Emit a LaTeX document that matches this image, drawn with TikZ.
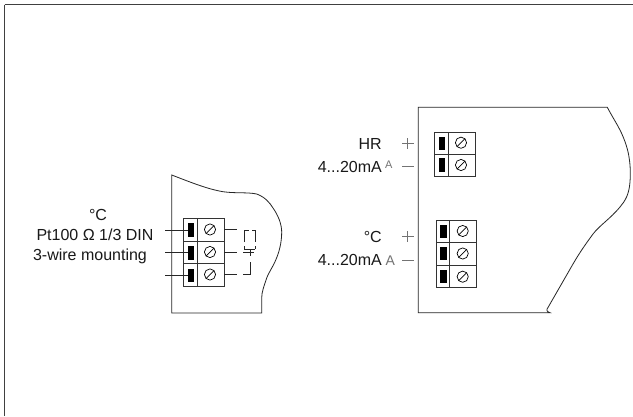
\documentclass[tikz,border=0pt]{standalone}
\usepackage{fontspec}
\setmainfont{Liberation Sans}
\tikzset{
  x=1pt,y=-1pt,
  frame/.style={draw=black!75,line width=0.9pt},
  encl/.style={draw=black!85,line width=0.8pt},
  cell/.style={draw=black!80,line width=0.9pt},
  pin/.style={fill=black,draw=none},
  screw/.style={draw=black,line width=0.7pt},
  sign/.style={draw=black!55,line width=0.8pt},
  wire/.style={draw=black!85,line width=0.7pt},
  lbl/.style={inner sep=0pt,font=\fontsize{16}{18}\selectfont,text=black!90},
  ghost/.style={inner sep=0pt,text=black!55}
}
\newcommand{\termrow}[5]{% x0 x1 x2 y0 y1
  \draw[cell] (#1,#4) rectangle (#3,#5);
  \draw[cell] (#2,#4) -- (#2,#5);
}
\newcommand{\screwat}[2]{%
  \draw[screw] (#1,#2) circle (5.6);
  \draw[screw] (#1-4,#2+4) -- (#1+4,#2-4);
}
\begin{document}
\begin{tikzpicture}
\useasboundingbox (0,0) rectangle (633,416);
\fill[white] (0,0) rectangle (633,416);
% frame
\draw[frame] (4.5,4.5) -- (632.5,4.5);
\draw[frame] (4.5,4.5) -- (4.5,416);
% left enclosure
\draw[encl] (171.7,175) .. controls (190,182) and (207,189) .. (223,191.7)
  .. controls (235,193.5) and (247,192) .. (256.7,194)
  .. controls (265,197) and (270,203) .. (273,208)
  .. controls (278,215) and (281.7,224) .. (281.7,232)
  .. controls (281.7,243) and (279,253) .. (275,261.7)
  .. controls (271,270) and (268,274) .. (266.7,278)
  .. controls (264,286) and (261.7,292) .. (261.7,298)
  -- (261.7,313) -- (171.7,313) -- cycle;
% right enclosure
\draw[encl] (418.3,107.3) -- (607.3,107.3)
  .. controls (613,118) and (617,124) .. (620,130)
  .. controls (625,140) and (628,150) .. (629,157)
  .. controls (630.5,166) and (630.5,174) .. (630,182)
  .. controls (629,195) and (625,201) .. (620,207)
  .. controls (610,219) and (600,225) .. (593,234)
  .. controls (585,245) and (580,252) .. (573,264)
  -- (548,307.5) .. controls (546,310) and (546.5,311.5) .. (550,312.7)
  -- (418.3,312.7) -- cycle;
% left block
\termrow{183.5}{197}{224}{218.5}{241}
\termrow{183.5}{197}{224}{241}{263.7}
\termrow{183.5}{197}{224}{263.7}{286}
\fill[pin] (187.7,223) rectangle (194,237);
\fill[pin] (187.7,246) rectangle (194,259.5);
\fill[pin] (187.7,269) rectangle (194,282);
\screwat{210}{229.5}
\screwat{210}{252}
\screwat{210}{274.5}
\draw[wire] (165,230) -- (187.7,230);
\draw[wire] (165,252.5) -- (187.7,252.5);
\draw[wire] (165,275) -- (187.7,275);
\draw[wire] (224,229.3) -- (236.7,229.3);
\draw[wire] (224,252) -- (236.7,252);
\draw[wire] (224,274.3) -- (237,274.3);
\draw[wire] (243,274.3) -- (250,274.3) -- (250,262);
\draw[wire] (243,252) -- (254,252) (250,250) -- (250,256);
\draw[wire] (244.3,249) -- (255.3,249);
\draw[wire] (244.3,246) -- (244.3,249);
\draw[wire] (255.3,246) -- (255.3,249);
\draw[wire] (244.3,242) -- (244.3,230.5) -- (249,230.5);
\draw[wire] (252,230.5) -- (255.3,230.5) -- (255.3,242);
% right top block
\termrow{434.5}{448.5}{475.5}{132}{154.3}
\termrow{434.5}{448.5}{475.5}{154.3}{176.7}
\fill[pin] (438.7,136.7) rectangle (445.3,150);
\fill[pin] (438.7,158) rectangle (445.3,171.7);
\screwat{461}{142.7}
\screwat{461}{165}
% right bottom block
\termrow{436}{449.5}{476}{220}{242.3}
\termrow{436}{449.5}{476}{242.3}{265}
\termrow{436}{449.5}{476}{265}{287.3}
\fill[pin] (440,225) rectangle (446.7,237.7);
\fill[pin] (440,246.7) rectangle (446.7,260);
\fill[pin] (440,270) rectangle (446.7,283);
\screwat{462.7}{231}
\screwat{462.7}{253.5}
\screwat{462.7}{276.7}
% signs
\draw[sign] (402,143.5) -- (413.5,143.5) (407.7,138) -- (407.7,149);
\draw[sign] (402,166.7) -- (413.5,166.7);
\draw[sign] (402,236.7) -- (413.5,236.7) (407.7,231) -- (407.7,242);
\draw[sign] (402,260) -- (413.5,260);
% labels
\node[lbl,anchor=base east] (hr) at (382,149) {HR};
\node[lbl,anchor=base east] (ma1) at (382,172) {4...20mA};
\node[lbl,anchor=base east] (degr) at (382,242.5) {°C};
\node[lbl,anchor=base east] (ma2) at (382,265) {4...20mA};
\node[ghost,anchor=base west,font=\fontsize{11}{12}\selectfont] (a1) at (385,168) {A};
\node[ghost,anchor=base west,font=\fontsize{14}{16}\selectfont] (a2) at (385.5,265) {A};
\node[lbl,anchor=base] (degl) at (98,220) {°C};
\node[lbl,anchor=base] (pt) at (95,240) {Pt100 Ω 1/3 DIN};
\node[lbl,anchor=base] (wire3) at (90,260.5) {3-wire mounting};
\end{tikzpicture}
\end{document}
